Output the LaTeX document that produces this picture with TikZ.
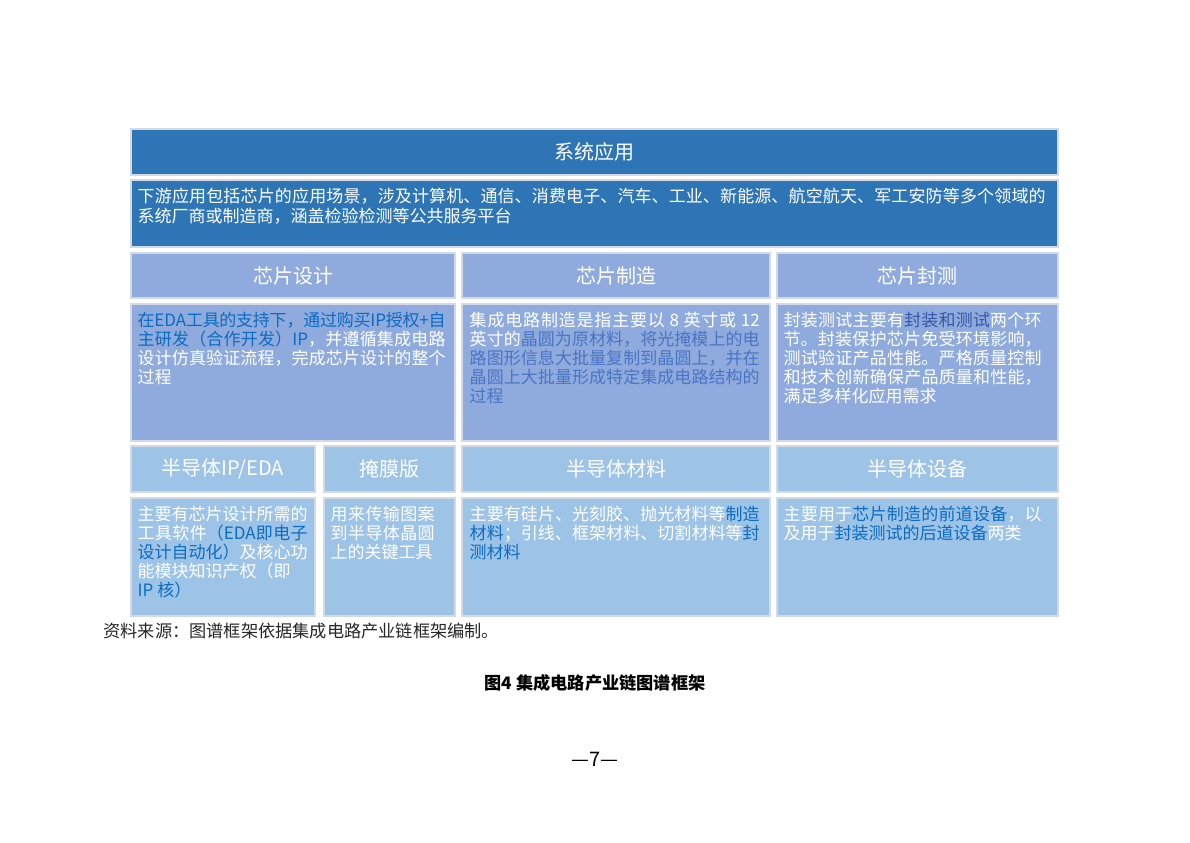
\documentclass[tikz,border=0pt]{standalone}
\usepackage{fontspec}
\setmainfont{Noto Sans CJK SC}
\usetikzlibrary{fit,positioning}
\XeTeXlinebreaklocale "zh"
\XeTeXlinebreakskip=0pt plus 1pt minus 0.3pt
\definecolor{topblue}{HTML}{2E75B6}
\definecolor{midblue}{HTML}{8FAADC}
\definecolor{lowblue}{HTML}{9DC3E6}
\definecolor{hlblue}{HTML}{0B6CC4}
\definecolor{hlsoft}{HTML}{4A74C6}
\definecolor{hlpkg}{HTML}{3558A8}
\definecolor{frameline}{HTML}{D3DAE6}
\newcommand{\hilite}[2][hlblue]{\textcolor{#1}{#2}}
\begin{document}
\begin{tikzpicture}[
		x=0.5pt, y=-0.5pt,
		box/.style={draw=frameline, line width=0.7pt, inner sep=0pt},
		top box/.style={box, fill=topblue},
		mid box/.style={box, fill=midblue},
		low box/.style={box, fill=lowblue},
		head/.style={text=white, inner sep=0pt, font=\fontsize{10}{12}\selectfont},
		body/.style={text=white, anchor=north west, inner sep=0pt, align=justify, font=\fontsize{8.5}{9.6}\selectfont}
	]
	\useasboundingbox (0,0) rectangle (1190,842);

	\node[top box, fit={(131,129) (1058,175)}] (sys) {};
	\node[head] (sys-t) at (sys.center) {系统应用};
	\node[top box, fit={(131,180) (1058,247)}] (sysdesc) {};
	\node[body, text width=454pt, font=\fontsize{8.5}{10}\selectfont] (sysdesc-t) at ([shift={(7,8)}]sysdesc.north west) {下游应用包括芯片的应用场景，涉及计算机、通信、消费电子、汽车、工业、新能源、航空航天、军工安防等多个领域的\linebreak 系统厂商或制造商，涵盖检验检测等公共服务平台};

	\node[mid box, fit={(131,253) (455,298)}] (design) {};
	\node[head] (design-t) at (design.center) {芯片设计};
	\node[mid box, fit={(462,253) (770,298)}] (fab) {};
	\node[head] (fab-t) at (fab.center) {芯片制造};
	\node[mid box, fit={(777,253) (1058,298)}] (pkg) {};
	\node[head] (pkg-t) at (pkg.center) {芯片封测};

	\node[mid box, fit={(131,304) (455,441)}] (designbody) {};
	\node[body, text width=154pt] (designbody-t) at ([shift={(7,8)}]designbody.north west) {\hilite{在EDA工具的支持下，通过购买IP授权+自\linebreak 主研发（合作开发）IP}，并遵循集成电路\linebreak 设计仿真验证流程，完成芯片设计的整个\linebreak 过程};
	\node[mid box, fit={(462,304) (770,441)}] (fabbody) {};
	\node[body, text width=145pt] (fabbody-t) at ([shift={(8,8)}]fabbody.north west) {集成电路制造是指主要以 8 英寸或 12\linebreak 英寸的\hilite[hlsoft]{晶圆为原材料，将光掩模上的电\linebreak 路图形信息大批量复制到晶圆上，并在\linebreak 晶圆上大批量形成特定集成电路结构的\linebreak 过程}};
	\node[mid box, fit={(777,304) (1058,441)}] (pkgbody) {};
	\node[body, text width=129pt] (pkgbody-t) at ([shift={(7,8)}]pkgbody.north west) {封装测试主要有\hilite[hlpkg]{封装和测试}两个环\linebreak 节。封装保护芯片免受环境影响，\linebreak 测试验证产品性能。严格质量控制\linebreak 和技术创新确保产品质量和性能，\linebreak 满足多样化应用需求};

	\node[low box, fit={(131,446) (315,492)}] (ip) {};
	\node[head] (ip-t) at (ip.center) {半导体IP/EDA};
	\node[low box, fit={(324,446) (455,492)}] (mask) {};
	\node[head] (mask-t) at (mask.center) {掩膜版};
	\node[low box, fit={(462,446) (770,492)}] (mat) {};
	\node[head] (mat-t) at (mat.center) {半导体材料};
	\node[low box, fit={(777,446) (1058,492)}] (equip) {};
	\node[head] (equip-t) at (equip.center) {半导体设备};

	\node[low box, fit={(131,498) (315,616)}] (ipbody) {};
	\node[body, text width=85pt] (ipbody-t) at ([shift={(7,8)}]ipbody.north west) {主要有芯片设计所需的\linebreak 工具软件\hilite{（EDA即电子\linebreak 设计自动化）}及核心功\linebreak 能模块知识产权（即\newline \hilite{IP 核）}};
	\node[low box, fit={(324,498) (455,616)}] (maskbody) {};
	\node[body, text width=52pt] (maskbody-t) at ([shift={(7,8)}]maskbody.north west) {用来传输图案\linebreak 到半导体晶圆\linebreak 上的关键工具};
	\node[low box, fit={(462,498) (770,616)}] (matbody) {};
	\node[body, text width=145pt] (matbody-t) at ([shift={(8,8)}]matbody.north west) {主要有硅片、光刻胶、抛光材料等\hilite{制造\linebreak 材料}；引线、框架材料、切割材料等\hilite{封\linebreak 测材料}};
	\node[low box, fit={(777,498) (1058,616)}] (equipbody) {};
	\node[body, text width=129pt] (equipbody-t) at ([shift={(7,8)}]equipbody.north west) {主要用于\hilite{芯片制造的前道设备}，以\linebreak 及用于\hilite{封装测试的后道设备}两类};

	\node[anchor=west, inner sep=0pt, text=black!85, font=\fontsize{8.6}{10}\selectfont] (source) at (103,631) {资料来源：图谱框架依据集成电路产业链框架编制。};
	\node[inner sep=0pt, font=\fontsize{8.6}{10}\selectfont\bfseries] (caption) at (595,683) {图4 集成电路产业链图谱框架};
	\node[inner sep=0pt, font=\fontsize{10}{12}\selectfont] (pageno) at (595,759) {—7—};
\end{tikzpicture}
\end{document}
